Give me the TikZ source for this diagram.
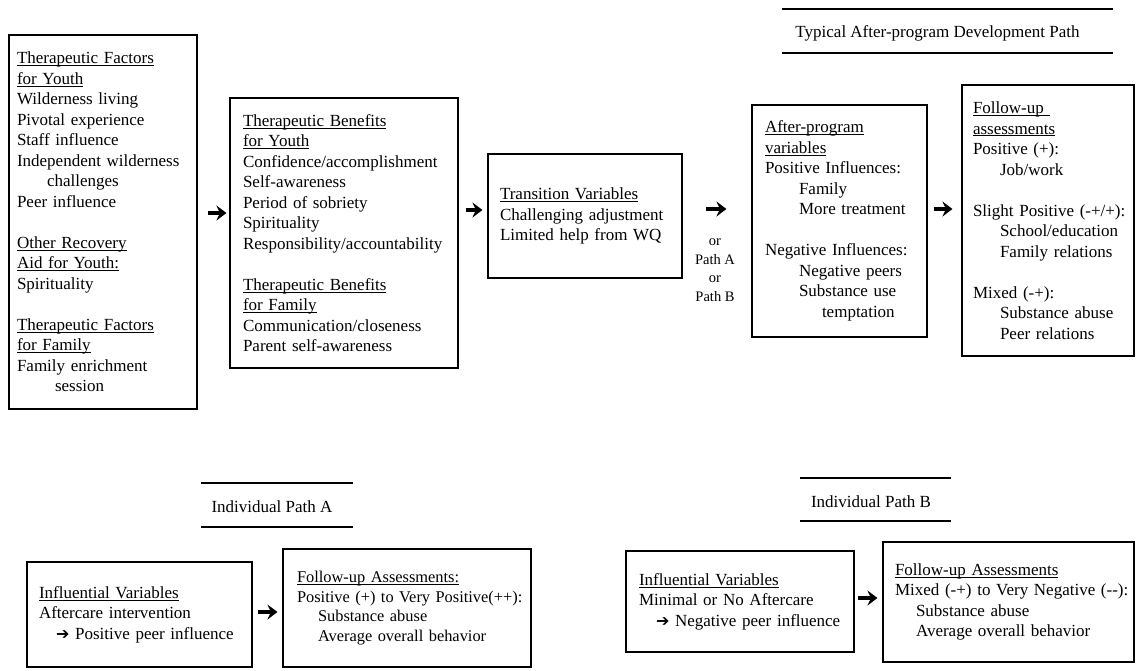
\documentclass[tikz,border=0pt]{standalone}
\usepackage{fontspec}
\setmainfont{Liberation Serif}
\newfontfamily\arrowfont{DejaVu Sans}
\usetikzlibrary{arrows.meta}

\newsavebox\ulbox
\newcommand{\undl}[1]{\leavevmode\sbox\ulbox{#1}\rlap{\rule[-2.3pt]{\wd\ulbox}{0.9pt}}\usebox\ulbox}
\newcommand{\indt}[1]{\hspace*{#1}}
\newcommand{\txtarrow}{{\arrowfont\fontsize{16}{20.5}\selectfont ➔}}

\tikzset{
  box/.style={draw, line width=1.1pt, align=left, inner ysep=0pt,
    font=\fontsize{17}{20.5}\selectfont,
    execute at begin node={\hyphenpenalty=10000\exhyphenpenalty=10000\hbadness=10000\hfuzz=40pt}},
  flow/.style={line width=3.1pt, -{Stealth[length=10pt,width=15pt,inset=3.5pt]}},
  hdrule/.style={line width=1.4pt},
  hdtext/.style={font=\fontsize{17}{20.5}\selectfont}
}

\begin{document}
\begin{tikzpicture}[x=1pt,y=-1pt]
  \useasboundingbox (0,0) rectangle (1137,670);

  % Top row: program
  \node[box, minimum width=188pt, minimum height=374pt, text width=172pt, inner xsep=8pt]
    (tfac) at (103,222) {\undl{Therapeutic Factors}\\ \undl{for Youth}\\
    Wilderness living\\ Pivotal experience\\ Staff influence\\
    Independent wilderness\\ \indt{30pt}challenges\\ Peer influence\\[20.5pt]
    \undl{Other Recovery}\\ \undl{Aid for Youth:}\\ Spirituality\\[20.5pt]
    \undl{Therapeutic Factors}\\ \undl{for Family}\\ Family enrichment\\
    \indt{38pt}session};
  \node[box, minimum width=228pt, minimum height=270pt, text width=202pt, inner xsep=13pt]
    (tben) at (344,233) {\undl{Therapeutic Benefits}\\ \undl{for Youth}\\
    Confidence/accomplishment\\ Self-awareness\\ Period of sobriety\\
    Spirituality\\ Responsibility/accountability\\[20.5pt]
    \undl{Therapeutic Benefits}\\ \undl{for Family}\\
    Communication/closeness\\ Parent self-awareness};
  \node[box, minimum width=194pt, minimum height=124pt, text width=170pt, inner xsep=12pt]
    (tvar) at (585,216) {\undl{Transition Variables}\\ Challenging adjustment\\
    Limited help from WQ};
  \node[font=\fontsize{14.5}{18.5}\selectfont, align=center] (orpath) at (715,270)
    {or\\ Path A\\ or\\ Path B};

  % Top row: after the program
  \node[hdtext] (hdtyp) at (937.5,33) {Typical After-program Development Path};
  \draw[hdrule] (782,9) -- (1113,9);
  \draw[hdrule] (782,53) -- (1113,53);
  \node[box, minimum width=175pt, minimum height=232pt, text width=149pt, inner xsep=13pt]
    (apv) at (839.5,221) {\undl{After-program}\\ \undl{variables}\\
    Positive Influences:\\ \indt{34pt}Family\\ \indt{34pt}More treatment\\[20.5pt]
    Negative Influences:\\ \indt{34pt}Negative peers\\ \indt{34pt}Substance use\\
    \indt{57pt}temptation};
  \node[box, minimum width=172pt, minimum height=271pt, text width=150pt, inner xsep=11pt]
    (fua) at (1048,220.5) {\undl{Follow-up }\\ \undl{assessments}\\
    Positive (+):\\ \indt{27pt}Job/work\\[20.5pt]
    \mbox{Slight Positive (-+/+):}\\ \indt{27pt}School/education\\ \indt{27pt}Family relations\\[20.5pt]
    Mixed (-+):\\ \indt{27pt}Substance abuse\\ \indt{27pt}Peer relations};

  % Bottom left: path A
  \node[hdtext] (hdA) at (272,507) {Individual Path A};
  \draw[hdrule] (201,483) -- (353,483);
  \draw[hdrule] (201,527) -- (353,527);
  \node[box, minimum width=225pt, minimum height=105pt, text width=201pt, inner xsep=12pt]
    (iva) at (139.5,614.5) {\undl{Influential Variables}\\ Aftercare intervention\\
    \indt{17pt}\txtarrow{} Positive peer influence};
  \node[box, minimum width=248pt, minimum height=118pt, text width=220pt, inner xsep=14pt,
    font=\fontsize{16.4}{19.5}\selectfont]
    (fuA) at (407,608) {\undl{Follow-up Assessments:}\\
    \mbox{Positive (+) to Very Positive(++):}\\ \indt{21pt}Substance abuse\\
    \indt{21pt}Average overall behavior};

  % Bottom right: path B
  \node[hdtext] (hdB) at (871,502) {Individual Path B};
  \draw[hdrule] (800,478) -- (951,478);
  \draw[hdrule] (800,521) -- (951,521);
  \node[box, minimum width=228pt, minimum height=101pt, text width=202pt, inner xsep=13pt]
    (ivb) at (740,601.5) {\undl{Influential Variables}\\ Minimal or No Aftercare\\
    \indt{17pt}\txtarrow{} Negative peer influence};
  \node[box, minimum width=251pt, minimum height=120pt, text width=227pt, inner xsep=12pt]
    (fuB) at (1008.5,602) {\undl{Follow-up Assessments}\\
    \mbox{Mixed (-+) to Very Negative (-{}-):}\\ \indt{21pt}Substance abuse\\
    \indt{21pt}Average overall behavior};

  % Arrows
  \draw[flow, shorten <=10pt, shorten >=3pt] ([yshift=9pt]tfac.east) -- ([yshift=20pt]tben.west);
  \draw[flow, shorten <=7pt, shorten >=5pt] ([yshift=23pt]tben.east) -- ([yshift=6pt]tvar.west);
  \draw[flow, shorten <=23pt, shorten >=25pt] ([yshift=7pt]tvar.east) -- ([yshift=12pt]apv.west);
  \draw[flow, shorten <=6pt, shorten >=9pt] ([yshift=12pt]apv.east) -- ([yshift=11.5pt]fua.west);
  \draw[flow, shorten <=5pt, shorten >=5pt] ([yshift=2.5pt]iva.east) -- ([yshift=-4pt]fuA.west);
  \draw[flow, shorten <=3pt, shorten >=5pt] ([yshift=3.5pt]ivb.east) -- ([yshift=4pt]fuB.west);
\end{tikzpicture}
\end{document}
